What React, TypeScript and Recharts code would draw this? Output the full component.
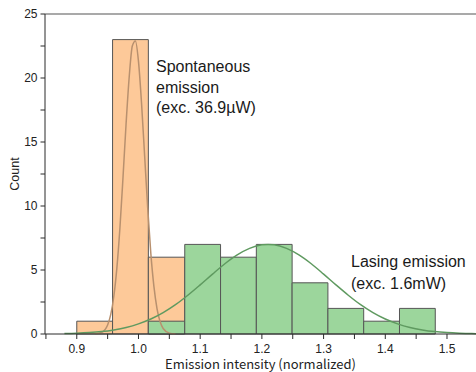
import React from 'react';
import { ComposedChart, XAxis, YAxis, Line, ReferenceArea, ReferenceLine } from 'recharts';

// Histogram bin edges (shared by both histograms)
const binEdges = [0.9, 0.958, 1.016, 1.075, 1.133, 1.191, 1.249, 1.307, 1.365, 1.423, 1.481];
// Counts per bin
const spontaneousCounts = [1, 23, 6, 0, 0, 0, 0, 0, 0, 0];
const lasingCounts = [0, 0, 1, 7, 6, 7, 4, 2, 1, 2];

// Fitted curve
const spontCurveX = [0.93, 0.94, 0.95, 0.955, 0.96, 0.965, 0.97, 0.975, 0.98, 0.985, 0.99, 0.995, 1.0, 1.005, 1.01, 1.015, 1.02, 1.025, 1.03, 1.035, 1.04, 1.05, 1.06];
const spontCurveY = [0.01, 0.12, 0.71, 1.51, 2.93, 5.17, 8.34, 12.3, 16.5, 20.1, 22.5, 22.9, 21.3, 18.0, 13.9, 9.8, 6.3, 3.72, 1.99, 0.97, 0.43, 0.07, 0.01];

const lasingCurveX = [0.88, 0.9, 0.92, 0.94, 0.96, 0.98, 1.0, 1.02, 1.04, 1.06, 1.08, 1.1, 1.12, 1.14, 1.16, 1.18, 1.2, 1.21, 1.22, 1.24, 1.26, 1.28, 1.3, 1.32, 1.34, 1.36, 1.38, 1.4, 1.42, 1.44, 1.46, 1.48, 1.5, 1.52, 1.54, 1.56];
const lasingCurveY = [0.03, 0.06, 0.11, 0.19, 0.32, 0.51, 0.79, 1.17, 1.67, 2.29, 3.03, 3.84, 4.68, 5.49, 6.18, 6.69, 6.97, 7.0, 6.97, 6.69, 6.18, 5.49, 4.68, 3.84, 3.03, 2.29, 1.67, 1.17, 0.79, 0.51, 0.32, 0.19, 0.11, 0.06, 0.03, 0.02];

const xTicks = [0.85, 0.9, 0.95, 1.0, 1.05, 1.1, 1.15, 1.2, 1.25, 1.3, 1.35, 1.4, 1.45, 1.5];
const yTicks = [0, 2.5, 5, 7.5, 10, 12.5, 15, 17.5, 20, 22.5, 25];

const spontCurve = spontCurveX.map((x, i) => ({ x, y: spontCurveY[i] }));
const lasingCurve = lasingCurveX.map((x, i) => ({ x, y: lasingCurveY[i] }));

const ORANGE = '#FDC999';
const GREEN = '#9CD69C';
const BAR_STROKE = '#555555';
const AXIS = '#2a2a2a';
const FONT = '"Liberation Sans", Arial, sans-serif';

const fmtX = (v: number) => (Math.abs(v * 10 - Math.round(v * 10)) < 1e-6 ? v.toFixed(1) : '');
const fmtY = (v: number) => (v % 5 === 0 ? String(v) : '');

export default function App() {
  return (
    <div style={{ position: 'absolute', left: 0, top: 0, width: 476, height: 372, background: '#fff' }}>
      <ComposedChart width={476} height={372} margin={{ top: 14, right: 0, bottom: 0, left: 0 }}>
        <XAxis
          type="number"
          dataKey="x"
          domain={[0.8485, 1.547]}
          allowDataOverflow
          ticks={xTicks}
          interval={0}
          tickFormatter={fmtX}
          height={38}
          tickSize={5}
          tickMargin={5}
          stroke={AXIS}
          tick={{ fill: '#222', fontSize: 12, fontFamily: FONT }}
          label={{
            value: 'Emission intensity (normalized)',
            position: 'insideBottom',
            offset: 3,
            style: { fill: '#222', fontSize: 13, fontFamily: '"Noto Sans CJK JP", sans-serif' },
          }}
        />
        <YAxis
          type="number"
          domain={[0, 25]}
          ticks={yTicks}
          interval={0}
          tickFormatter={fmtY}
          width={45}
          tickSize={4.5}
          tickMargin={3}
          stroke={AXIS}
          tick={{ fill: '#222', fontSize: 12, fontFamily: FONT }}
          label={{
            value: 'Count',
            angle: -90,
            position: 'insideLeft',
            offset: 15,
            style: { textAnchor: 'middle', fill: '#222', fontSize: 12.5, fontFamily: FONT },
          }}
        />
        <ReferenceLine y={25} stroke="#555" strokeWidth={1.2} />
        {spontaneousCounts.map((c, i) =>
          c > 0 ? (
            <ReferenceArea
              key={'s' + i}
              x1={binEdges[i]}
              x2={binEdges[i + 1]}
              y1={0}
              y2={c}
              fill={ORANGE}
              fillOpacity={1}
              stroke={BAR_STROKE}
              strokeWidth={1}
              zIndex={300}
            />
          ) : null
        )}
        {lasingCounts.map((c, i) =>
          c > 0 ? (
            <ReferenceArea
              key={'l' + i}
              x1={binEdges[i]}
              x2={binEdges[i + 1]}
              y1={0}
              y2={c}
              fill={GREEN}
              fillOpacity={1}
              stroke={BAR_STROKE}
              strokeWidth={1}
              zIndex={301}
            />
          ) : null
        )}
        <Line
          data={spontCurve}
          dataKey="y"
          type="monotone"
          stroke="#B8906E"
          strokeWidth={1.5}
          dot={false}
          activeDot={false}
          isAnimationActive={false}
          zIndex={400}
        />
        <Line
          data={lasingCurve}
          dataKey="y"
          type="monotone"
          stroke="#5F9A60"
          strokeWidth={1.5}
          dot={false}
          activeDot={false}
          isAnimationActive={false}
          zIndex={400}
        />
      </ComposedChart>
      <svg
        width={476}
        height={372}
        style={{ position: 'absolute', left: 0, top: 0, pointerEvents: 'none' }}
      >
        <g fontFamily={FONT} fontSize={16} fill="#1a1a1a">
          <text x={156} y={71.5}>Spontaneous</text>
          <text x={156} y={92.5}>emission</text>
          <text x={156} y={113}>(exc. 36.9µW)</text>
          <text x={351} y={267}>Lasing emission</text>
          <text x={351} y={288.5}>(exc. 1.6mW)</text>
        </g>
      </svg>
    </div>
  );
}
